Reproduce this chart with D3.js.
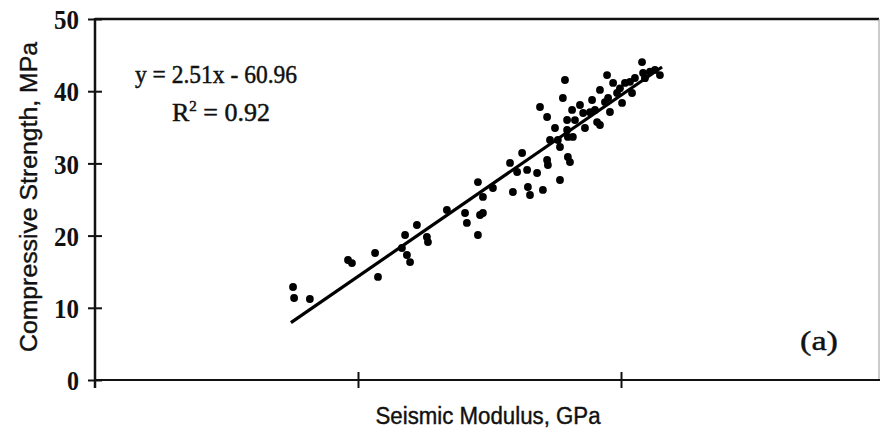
<!DOCTYPE html>
<html>
<head>
<meta charset="utf-8">
<script src="https://cdn.jsdelivr.net/npm/d3@7"></script>
<style>
  body { margin: 0; background: #fff; }
</style>
</head>
<body>
<div class="chart"></div>
<script>
// seismic modulus (GPa) vs compressive strength (MPa)
var modulus = [27.53, 27.57, 28.17, 29.62, 29.77, 30.65, 30.76, 31.67, 31.86, 31.98,
               31.79, 32.24, 32.62, 32.66, 33.38, 34.07, 34.14, 34.56, 34.64, 34.75,
               34.56, 34.75, 35.13, 35.78, 35.89, 36.05, 36.24, 36.43, 36.46, 36.54,
               36.81, 37.03, 37.19, 37.22, 37.30, 36.92, 37.19, 37.68, 37.60, 37.68,
               37.87, 37.79, 37.95, 37.98, 38.06, 37.95, 37.98, 38.14, 38.17, 38.44,
               38.63, 38.56, 38.90, 39.01, 39.09, 39.20, 39.20, 39.47, 39.58, 39.51,
               39.70, 39.85, 40.04, 40.15, 40.42, 40.53, 40.80, 40.84, 41.29, 41.48,
               37.49, 38.25, 38.82, 39.39, 39.96, 40.34, 40.91, 41.10];
var strength = [12.88, 11.36, 11.22, 16.62, 16.20, 17.59, 14.27, 18.28, 17.31, 16.34,
                20.08, 21.47, 19.81, 19.11, 23.55, 23.13, 21.75, 27.42, 22.85, 23.13,
                20.08, 25.35, 26.59, 30.06, 26.04, 28.81, 31.44, 29.09, 26.73, 25.62,
                28.67, 26.32, 30.47, 29.78, 33.24, 37.81, 36.43, 27.70, 33.24, 32.27,
                41.55, 39.06, 36.01, 30.89, 30.19, 34.63, 33.66, 37.40, 33.66, 38.09,
                34.90, 36.98, 38.78, 37.40, 35.73, 35.32, 40.17, 42.24, 37.12, 39.06,
                41.14, 39.75, 38.37, 41.14, 39.75, 41.83, 44.04, 42.52, 42.94, 42.24,
                34.90, 36.00, 37.10, 38.50, 40.40, 41.30, 41.80, 42.70];

var yTicks = [0, 10, 20, 30, 40, 50];
var xTicks = [30, 40];
var slope = 2.51, intercept = -60.96;
var fitRange = [27.45, 41.56];

var svg = d3.select(".chart")
            .append("svg")
            .attr("width", 880)
            .attr("height", 437);

var x = d3.scaleLinear().domain([20, 50]).range([95, 884]);
var y = d3.scaleLinear().domain([0, 50]).range([380, 19]);

// frame: top and right
svg.append("line")
    .attr("x1", 95).attr("y1", 19).attr("x2", 879).attr("y2", 19)
    .style("stroke", "#111").style("stroke-width", 2.5);
svg.append("line")
    .attr("x1", 879).attr("y1", 19).attr("x2", 879).attr("y2", 380)
    .style("stroke", "#999").style("stroke-width", 1);

// y axis
var gy = svg.append("g")
    .attr("transform", "translate(95,0)")
    .call(d3.axisLeft(y).tickValues(yTicks).tickSize(7).tickPadding(9));
gy.select(".domain").remove();
gy.selectAll(".tick line").attr("x1", -7).attr("x2", 7)
    .style("stroke", "#111").style("stroke-width", 2);
gy.selectAll(".tick text")
    .style("font-family", "'Liberation Serif', serif")
    .style("font-weight", "bold")
    .style("font-size", "27px")
    .attr("fill", "#111")
    .attr("dy", "0.36em")
    .attr("textLength", function(d) { return d >= 10 ? 25 : 12; })
    .attr("lengthAdjust", "spacingAndGlyphs");
svg.append("line")
    .attr("x1", 95).attr("y1", 18).attr("x2", 95).attr("y2", 388)
    .style("stroke", "#111").style("stroke-width", 2.5);

// x axis
var gx = svg.append("g")
    .attr("transform", "translate(0,380)")
    .call(d3.axisBottom(x).tickValues(xTicks).tickSize(8).tickFormat(""));
gx.select(".domain").remove();
gx.selectAll(".tick line").attr("y1", -8).attr("y2", 8)
    .style("stroke", "#111").style("stroke-width", 2);
svg.append("line")
    .attr("x1", 95).attr("y1", 380).attr("x2", 880).attr("y2", 380)
    .style("stroke", "#111").style("stroke-width", 2.2);

// points
svg.selectAll("circle.pt")
    .data(modulus)
    .enter()
    .append("circle")
    .attr("class", "pt")
    .attr("cx", function(d) { return x(d); })
    .attr("cy", function(d, i) { return y(strength[i]); })
    .attr("r", 3.9)
    .attr("fill", "#000");

// trend line
svg.append("line")
    .attr("x1", x(fitRange[0]))
    .attr("y1", y(slope * fitRange[0] + intercept))
    .attr("x2", x(fitRange[1]))
    .attr("y2", y(slope * fitRange[1] + intercept))
    .style("stroke", "#000")
    .style("stroke-width", 3.2);

// equation
svg.append("text")
    .attr("x", 135).attr("y", 83)
    .text("y = 2.51x - 60.96")
    .style("font-family", "'Liberation Serif', serif")
    .style("font-size", "26px")
    .attr("textLength", 162)
    .attr("lengthAdjust", "spacingAndGlyphs")
    .attr("fill", "#111")
    .style("stroke", "#111").style("stroke-width", 0.5);
var r2 = svg.append("text")
    .attr("x", 172).attr("y", 121)
    .style("font-family", "'Liberation Serif', serif")
    .style("font-size", "26px")
    .attr("fill", "#111")
    .style("stroke", "#111").style("stroke-width", 0.5);
r2.append("tspan").text("R");
r2.append("tspan").text("2").attr("dy", -10).style("font-size", "15px");
r2.append("tspan").text(" = 0.92").attr("dy", 10);

// panel label
svg.append("text")
    .attr("x", 800).attr("y", 350)
    .text("(a)")
    .style("font-family", "'Liberation Serif', serif")
    .style("font-size", "27px")
    .attr("textLength", 38)
    .attr("lengthAdjust", "spacingAndGlyphs")
    .attr("fill", "#111")
    .style("stroke", "#111").style("stroke-width", 0.4);

// axis titles
svg.append("text")
    .attr("x", 488).attr("y", 424)
    .attr("text-anchor", "middle")
    .text("Seismic Modulus, GPa")
    .style("font-family", "'Liberation Sans Narrow', 'Liberation Sans', sans-serif")
    .style("font-size", "23px")
    .attr("textLength", 225)
    .attr("lengthAdjust", "spacingAndGlyphs")
    .attr("fill", "#111")
    .style("stroke", "#111").style("stroke-width", 0.4);

svg.append("text")
    .attr("transform", "translate(37,197) rotate(-90)")
    .attr("text-anchor", "middle")
    .text("Compressive Strength, MPa")
    .style("font-family", "'Liberation Sans Narrow', 'Liberation Sans', sans-serif")
    .style("font-size", "23px")
    .attr("textLength", 310)
    .attr("lengthAdjust", "spacingAndGlyphs")
    .attr("fill", "#111")
    .style("stroke", "#111").style("stroke-width", 0.4);
</script>
</body>
</html>
